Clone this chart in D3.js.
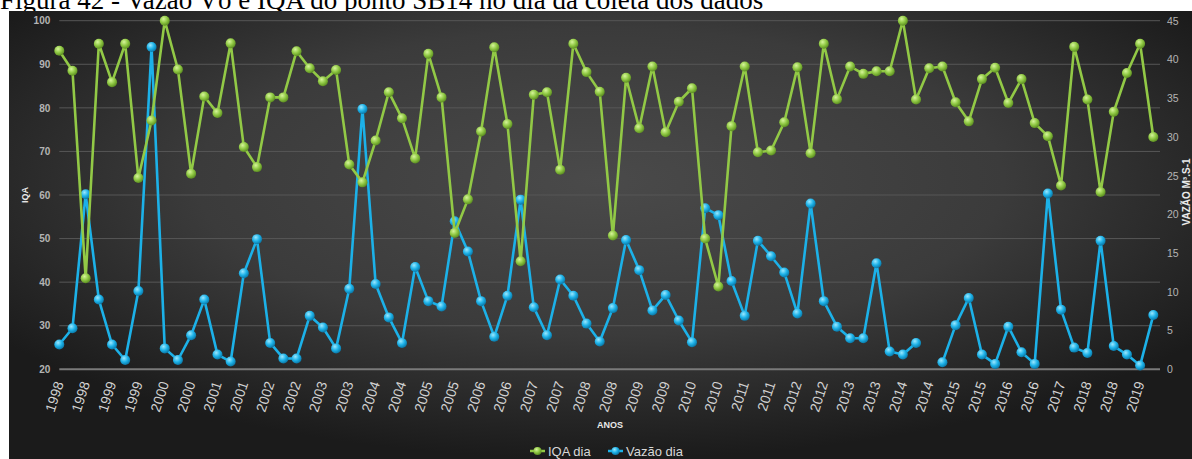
<!DOCTYPE html>
<html>
<head>
<meta charset="utf-8">
<script src="https://cdn.jsdelivr.net/npm/d3@7"></script>
<style>
  html, body { margin: 0; padding: 0; background: #ffffff; }
  svg { display: block; }
</style>
</head>
<body>
<svg id="chart" width="1192" height="459"></svg>
<script>
// Sample-day water quality index (IQA) and discharge (Vazão) at point SB14
const tickLabels = [
  "1998","1998","1999","1999","2000","2000","2001","2001","2002","2002",
  "2003","2003","2004","2004","2005","2005","2006","2006","2007","2007",
  "2008","2008","2009","2009","2010","2010","2011","2011","2012","2012",
  "2013","2013","2014","2014","2015","2015","2016","2016","2017","2018",
  "2018","2019"
];

const iqaDia = [
  93.1, 88.5, 40.9, 94.7, 85.9, 94.7, 63.9, 77.1, 100, 88.8,
  64.9, 82.6, 78.8, 94.8, 71.0, 66.4, 82.4, 82.4, 93.0, 89.1,
  86.1, 88.7, 67.0, 62.9, 72.5, 83.6, 77.6, 68.4, 92.4, 82.4,
  51.3, 59.0, 74.6, 93.9, 76.3, 44.8, 83.0, 83.6, 65.8, 94.7,
  88.2, 83.7, 50.7, 86.9, 75.3, 89.5, 74.4, 81.4, 84.5, 50.0,
  39.0, 75.8, 89.5, 69.8, 70.2, 76.7, 89.3, 69.6, 94.7, 82.0,
  89.5, 87.8, 88.4, 88.4, 100, 81.9, 89.1, 89.5, 81.3, 76.9,
  86.6, 89.2, 81.1, 86.6, 76.5, 73.5, 62.2, 94.0, 81.9, 60.7,
  79.1, 88.0, 94.7, 73.3
];

const vazaoDia = [
  3.2, 5.3, 22.6, 9.0, 3.2, 1.2, 10.1, 41.6, 2.7, 1.2,
  4.4, 9.0, 1.9, 1.0, 12.4, 16.8, 3.4, 1.4, 1.4, 6.9,
  5.4, 2.7, 10.4, 33.6, 11.0, 6.7, 3.4, 13.2, 8.8, 8.1,
  19.1, 15.2, 8.8, 4.2, 9.5, 21.9, 8.0, 4.4, 11.6, 9.5,
  5.9, 3.6, 7.9, 16.7, 12.8, 7.6, 9.6, 6.3, 3.5, 20.8,
  19.9, 11.4, 6.9, 16.6, 14.6, 12.5, 7.2, 21.4, 8.8, 5.5,
  4.0, 4.0, 13.7, 2.3, 1.9, 3.4, null, 0.9, 5.7, 9.2,
  1.9, 0.7, 5.5, 2.2, 0.7, 22.7, 7.7, 2.8, 2.1, 16.6,
  3.0, 1.9, 0.5, 7.0
];

const iqaTicks = [20, 30, 40, 50, 60, 70, 80, 90, 100];
const vazaoTicks = [0, 5, 10, 15, 20, 25, 30, 35, 40, 45];

const svg = d3.select("#chart");
const W = 1192, H = 459;

// panel and plot geometry
const panel = { x: 9, y: 11, w: W - 9, h: H - 11 };
const plot = { left: 59.3, right: 1153.3, gridRight: 1160, top: 20.7, bottom: 369.3 };

const defs = svg.append("defs");

const bg = defs.append("radialGradient")
  .attr("id", "bgGrad").attr("cx", "50%").attr("cy", "38%").attr("r", "62%");
bg.append("stop").attr("offset", "0%").attr("stop-color", "#4a4a4a");
bg.append("stop").attr("offset", "55%").attr("stop-color", "#3b3b3b");
bg.append("stop").attr("offset", "100%").attr("stop-color", "#1b1b1b");

function ballGradient(id, hi, mid, edge) {
  const g = defs.append("radialGradient")
    .attr("id", id).attr("cx", "38%").attr("cy", "32%").attr("r", "68%");
  g.append("stop").attr("offset", "0%").attr("stop-color", hi);
  g.append("stop").attr("offset", "55%").attr("stop-color", mid);
  g.append("stop").attr("offset", "100%").attr("stop-color", edge);
}
ballGradient("ballGreen", "#d6f59a", "#8fc843", "#5d8f22");
ballGradient("ballBlue", "#9ae8ff", "#1db2e8", "#0b79a8");

// caption line above the panel (partly hidden behind it)
svg.append("text")
  .attr("x", 0).attr("y", 9)
  .attr("font-family", "'Liberation Serif', 'Times New Roman', serif")
  .attr("font-size", 27)
  .attr("fill", "#000")
  .text("Figura 42 - Vazão Vó e IQA do ponto SB14 no dia da coleta dos dados");

svg.append("rect")
  .attr("x", panel.x).attr("y", panel.y)
  .attr("width", panel.w).attr("height", panel.h)
  .attr("fill", "url(#bgGrad)");

const x = d3.scalePoint()
  .domain(d3.range(iqaDia.length))
  .range([plot.left, plot.right]);

const yL = d3.scaleLinear().domain([20, 100]).range([plot.bottom, plot.top]);
const yR = d3.scaleLinear().domain([0, 45]).range([plot.bottom, plot.top]);

// gridlines (left axis)
svg.append("g").selectAll("line")
  .data(iqaTicks.slice(1))
  .join("line")
  .attr("x1", plot.left).attr("x2", plot.gridRight)
  .attr("y1", d => yL(d)).attr("y2", d => yL(d))
  .attr("stroke", "#575757").attr("stroke-width", 1);

svg.append("line")
  .attr("x1", plot.left).attr("x2", plot.gridRight)
  .attr("y1", yL(20)).attr("y2", yL(20))
  .attr("stroke", "#7a7a7a").attr("stroke-width", 2);

const tickFont = "'Liberation Sans', Arial, sans-serif";

// left axis
const leftAxis = svg.append("g")
  .attr("transform", `translate(${plot.left - 9},0)`)
  .call(d3.axisLeft(yL).tickValues(iqaTicks).tickSize(0).tickPadding(0));
leftAxis.select(".domain").remove();
leftAxis.selectAll("text")
  .attr("font-family", tickFont).attr("font-size", 10).attr("font-weight", "bold")
  .attr("fill", "#b4b4b4");

// right axis
const rightAxis = svg.append("g")
  .attr("transform", `translate(${plot.gridRight + 7},0)`)
  .call(d3.axisRight(yR).tickValues(vazaoTicks).tickSize(0).tickPadding(0));
rightAxis.select(".domain").remove();
rightAxis.selectAll("text")
  .attr("font-family", tickFont).attr("font-size", 10.5)
  .attr("fill", "#b4b4b4");

// bottom axis: a label on every second sample
const evenIdx = d3.range(0, iqaDia.length, 2);
const bottomAxis = svg.append("g")
  .attr("transform", `translate(0,${plot.bottom})`)
  .call(d3.axisBottom(x).tickValues(evenIdx).tickSize(0)
    .tickFormat((d, i) => tickLabels[i]));
bottomAxis.select(".domain").remove();
bottomAxis.selectAll("text")
  .attr("font-family", tickFont).attr("font-size", 14)
  .attr("fill", "#d2d2d2")
  .attr("text-anchor", "end")
  .attr("dx", 0).attr("dy", 0)
  .attr("transform", "translate(4,14) rotate(-72)")
  .attr("y", 0);

// axis titles
svg.append("text")
  .attr("transform", `translate(28,${yL(60)}) rotate(-90)`)
  .attr("text-anchor", "middle")
  .attr("font-family", tickFont).attr("font-size", 9).attr("font-weight", "bold")
  .attr("fill", "#eaeaea")
  .text("IQA");

svg.append("text")
  .attr("transform", `translate(1190,192) rotate(-90)`)
  .attr("text-anchor", "middle")
  .attr("font-family", tickFont).attr("font-size", 10).attr("font-weight", "bold")
  .attr("fill", "#eaeaea")
  .text("VAZÃO M³.S-1");

svg.append("text")
  .attr("x", 610).attr("y", 428)
  .attr("text-anchor", "middle")
  .attr("font-family", tickFont).attr("font-size", 9).attr("font-weight", "bold")
  .attr("fill", "#eaeaea")
  .text("ANOS");

// series
const series = [
  { name: "IQA dia", values: iqaDia, y: yL, color: "#92c946", ball: "url(#ballGreen)" },
  { name: "Vazão dia", values: vazaoDia, y: yR, color: "#1cb1e8", ball: "url(#ballBlue)" }
];

// draw the discharge series first so the IQA line sits on top where they cross
[series[1], series[0]].forEach(s => {
  const pts = s.values.map((v, i) => ({ i, v }));
  const line = d3.line()
    .defined(d => d.v != null)
    .x(d => x(d.i)).y(d => s.y(d.v));
  svg.append("path")
    .datum(pts)
    .attr("fill", "none")
    .attr("stroke", s.color)
    .attr("stroke-width", 2.6)
    .attr("stroke-linejoin", "round")
    .attr("d", line);
  svg.append("g").selectAll("circle")
    .data(pts.filter(d => d.v != null))
    .join("circle")
    .attr("cx", d => x(d.i)).attr("cy", d => s.y(d.v))
    .attr("r", 5)
    .attr("fill", s.ball);
});

// legend
const legend = svg.append("g").attr("transform", "translate(0,451)");
const legendItems = [
  { s: series[0], x0: 530, tx: 548 },
  { s: series[1], x0: 608, tx: 626 }
];
legendItems.forEach(it => {
  legend.append("line")
    .attr("x1", it.x0).attr("x2", it.x0 + 15)
    .attr("y1", 0).attr("y2", 0)
    .attr("stroke", it.s.color).attr("stroke-width", 2.5);
  legend.append("circle")
    .attr("cx", it.x0 + 7.5).attr("cy", 0).attr("r", 4)
    .attr("fill", it.s.ball);
  legend.append("text")
    .attr("x", it.tx).attr("y", 0).attr("dy", "0.35em")
    .attr("font-family", tickFont).attr("font-size", 13)
    .attr("fill", "#d8d8d8")
    .text(it.s.name);
});
</script>
</body>
</html>
